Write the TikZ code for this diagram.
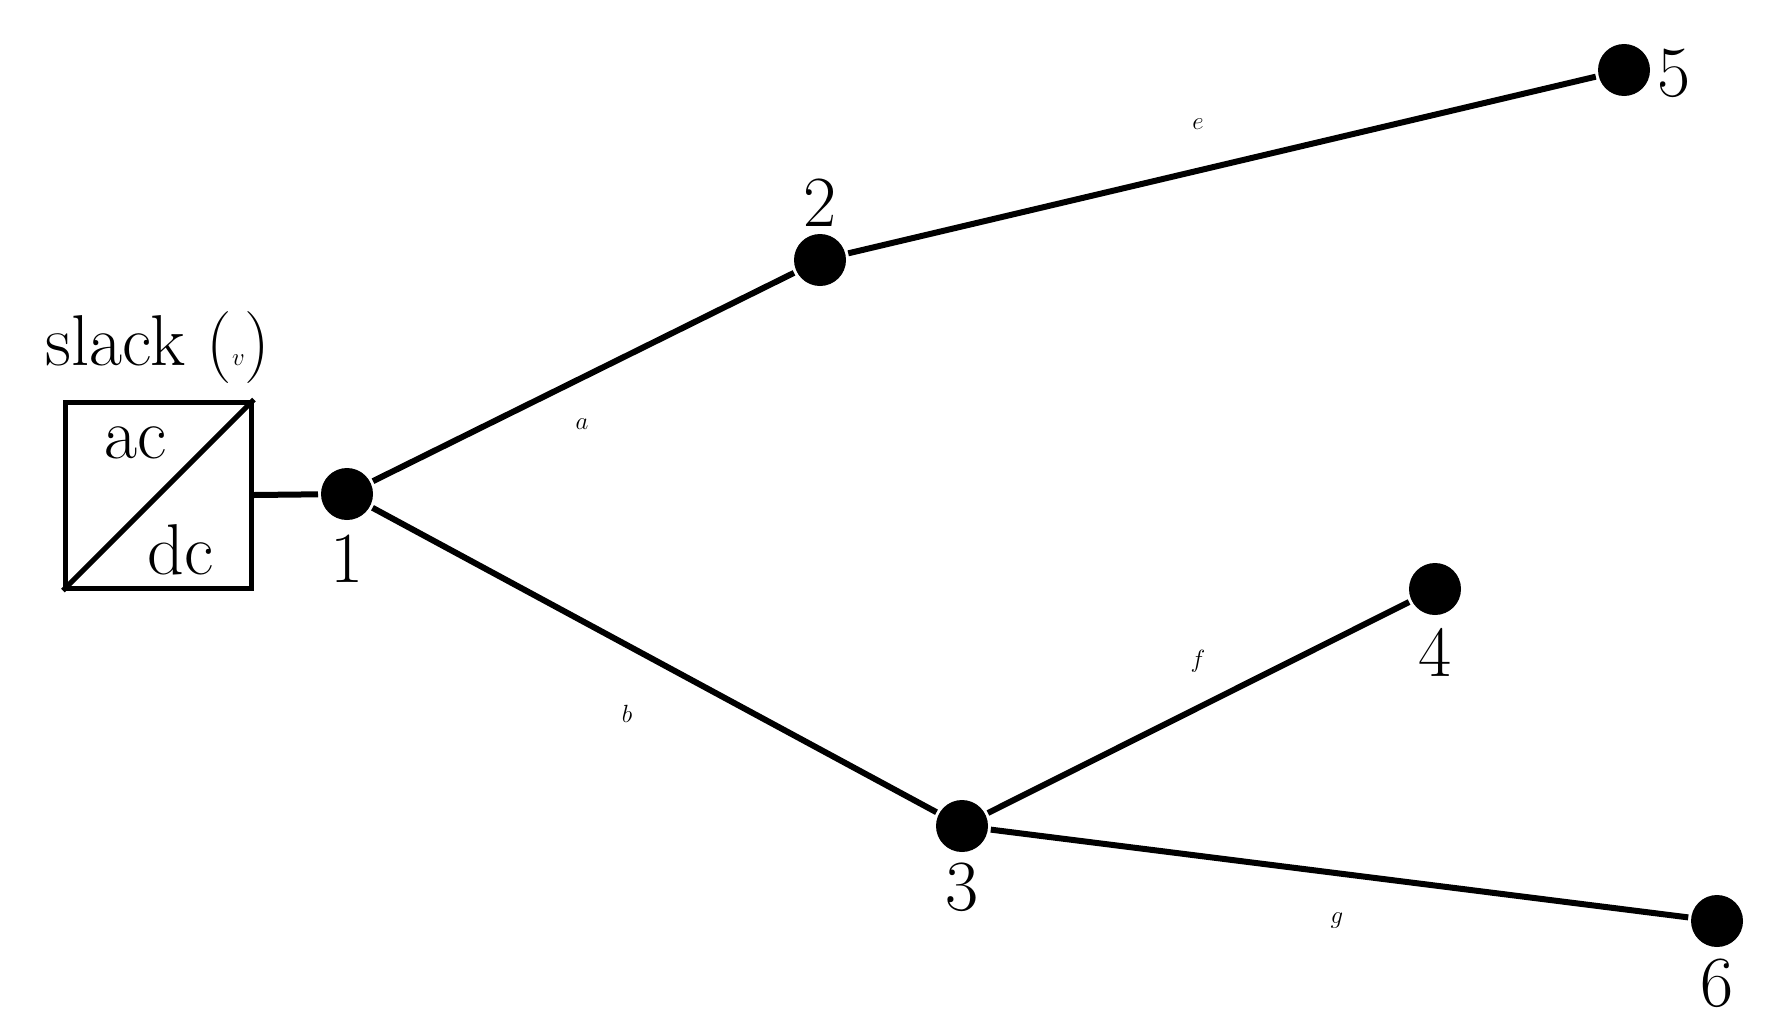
\documentclass[tikz,border=0pt]{standalone}
\begin{document}
\begin{tikzpicture}[x=1pt,y=-1pt,line width=6pt,
  bus/.style={circle,fill=black,inner sep=0pt,minimum size=52pt},
  lbl/.style={inner sep=0pt,font=\fontsize{72}{86}\selectfont}]
\useasboundingbox (0,0) rectangle (1771,1025);
\node[bus] (n1) at (347,494) {};
\node[bus] (n2) at (820,260) {};
\node[bus] (n3) at (962,826) {};
\node[bus] (n4) at (1435,589) {};
\node[bus] (n5) at (1624,70) {};
\node[bus] (n6) at (1717,921) {};
\node[draw,minimum size=186pt,inner sep=0pt,line width=5pt] (box) at (158.5,495) {};
\draw[line width=5pt] (box.south west) -- (box.north east);
\draw (box.east) -- (n1);
\draw (n1) -- (n2); \draw (n1) -- (n3); \draw (n2) -- (n5);
\draw (n3) -- (n4); \draw (n3) -- (n6);
\node[lbl] (l1) at (347,559) {1};
\node[lbl] (l2) at (820,203) {2};
\node[lbl] (l3) at (962,887) {3};
\node[lbl] (l4) at (1435,652) {4};
\node[lbl] (l5) at (1674,73) {5};
\node[lbl] (l6) at (1717,983) {6};
\node[lbl] (la) at (582,424) {$a$};
\node[lbl] (lb) at (627,714) {$b$};
\node[lbl] (le) at (1198,124) {$e$};
\node[lbl] (lf) at (1198,661) {$f$};
\node[lbl] (lg) at (1337,921) {$g$};
\node[lbl] (ls) at (158,348) {slack ($v$)};
\node[lbl] (lac) at (136,443) {ac};
\node[lbl] (ldc) at (181,550) {dc};
\end{tikzpicture}
\end{document}
